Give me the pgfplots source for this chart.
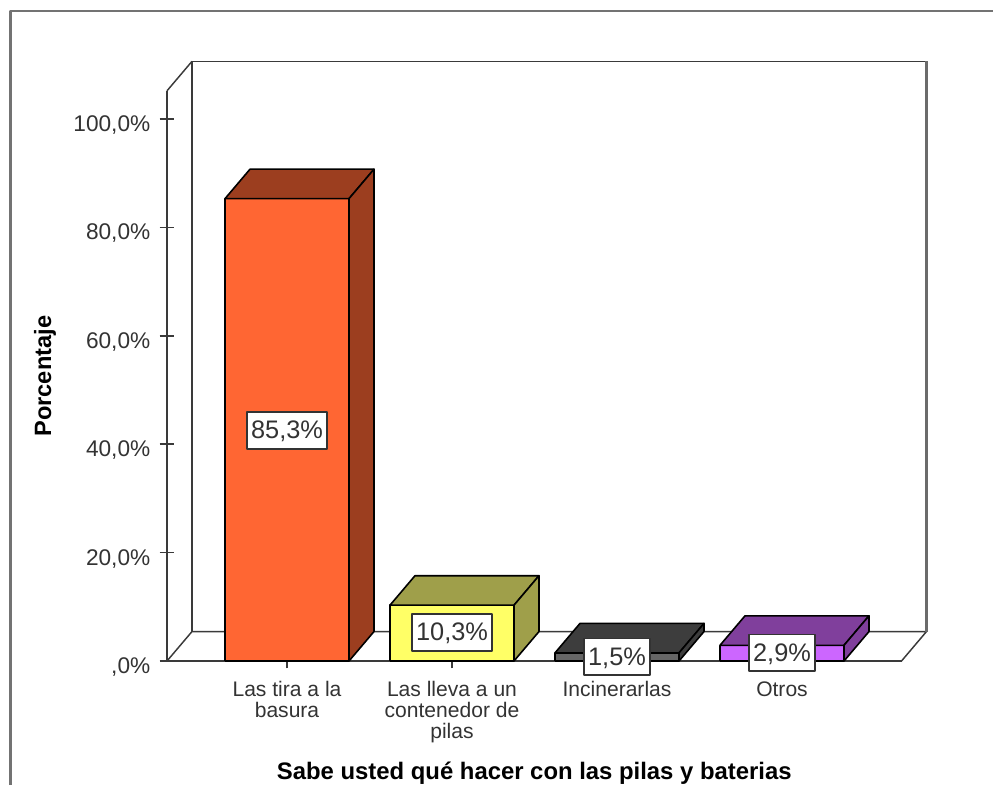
\documentclass[border=0pt]{standalone}
\usepackage{pgfplots}
\pgfplotsset{compat=1.18}
\usepackage{fontspec}
\setmainfont{Liberation Sans}
\definecolor{txt}{HTML}{333333}
\definecolor{orangeF}{HTML}{FF6633}
\definecolor{orangeD}{HTML}{9C3E1F}
\definecolor{yellowF}{HTML}{FFFF66}
\definecolor{yellowD}{HTML}{9F9F4A}
\definecolor{greyF}{HTML}{666666}
\definecolor{greyD}{HTML}{3D3D3D}
\definecolor{purpleF}{HTML}{CC66FF}
\definecolor{purpleD}{HTML}{803F9C}
\definecolor{wall}{HTML}{3A3A3A}
\begin{document}
\begin{tikzpicture}[line join=round]
\begin{axis}[
  scale only axis, width=550.875pt, height=427.65pt,
  xmin=167, xmax=901.5, ymin=0, ymax=105.2,
  clip=false, no markers,
  axis x line=bottom, axis y line=left,
  axis line style={-, draw=wall},
  y axis line style={line width=1.7pt},
  x axis line style={line width=1.2pt},
  tick style={draw=wall, line width=1.2pt},
  major tick length=11pt,
  xtick={287,452,617,782},
  xticklabels={{Las tira a la\\basura},{Las lleva a un\\contenedor de\\pilas},{Incinerarlas},{Otros}},
  xticklabel style={align=center, font=\fontsize{15.8}{15.5}\selectfont, text=txt, yshift=-6.5pt},
  ytick={0,20,40,60,80,100},
  yticklabels={{,0\%},{20,0\%},{40,0\%},{60,0\%},{80,0\%},{100,0\%}},
  yticklabel style={font=\fontsize{17}{20}\selectfont, text=txt, yshift=-4.5pt, xshift=-3.5pt},
  xlabel={Sabe usted qué hacer con las pilas y baterias},
  ylabel={Porcentaje},
  x label style={at={(axis description cs:0.5,-0.197)}, anchor=center, font=\fontsize{17.9}{20}\selectfont\bfseries},
  y label style={at={(axis description cs:-0.166,0.4995)}, anchor=center, rotate=0, font=\fontsize{17.7}{20}\selectfont\bfseries},
]
% outer frame, open on the right and at the bottom
\addplot[draw=gray!90!black, line width=1.6pt] coordinates {(10.5,-22.88) (10.5,119.9) (993,119.9)};

% back walls and floor of the chart box
\addplot[draw=wall, line width=1.1pt] coordinates {(167,0) (192,5.44) (926.5,5.44) (901.5,0)};
\addplot[draw=wall, line width=1.1pt] coordinates {(192,5.44) (192,110.64) (926.5,110.64)};
\addplot[draw=wall!75, line width=1.6pt] coordinates {(926.5,110.64) (926.5,5.44)};
\addplot[draw=wall, line width=1.1pt] coordinates {(167,105.2) (192,110.64)};

% Las tira a la basura: 85,3
\addplot[fill=orangeF, draw=black, line width=1.2pt] coordinates {(225,0) (225,85.3) (349,85.3) (349,0) (225,0)};
\addplot[fill=orangeD, draw=black, line width=1.2pt] coordinates {(225,85.3) (250,90.74) (374,90.74) (349,85.3) (225,85.3)};
\addplot[fill=orangeD, draw=black, line width=1.2pt] coordinates {(349,0) (349,85.3) (374,90.74) (374,5.44) (349,0)};

% Las lleva a un contenedor de pilas: 10,3
\addplot[fill=yellowF, draw=black, line width=1.2pt] coordinates {(390,0) (390,10.3) (514,10.3) (514,0) (390,0)};
\addplot[fill=yellowD, draw=black, line width=1.2pt] coordinates {(390,10.3) (415,15.74) (539,15.74) (514,10.3) (390,10.3)};
\addplot[fill=yellowD, draw=black, line width=1.2pt] coordinates {(514,0) (514,10.3) (539,15.74) (539,5.44) (514,0)};

% Incinerarlas: 1,5
\addplot[fill=greyF, draw=black, line width=1.2pt] coordinates {(555,0) (555,1.5) (679,1.5) (679,0) (555,0)};
\addplot[fill=greyD, draw=black, line width=1.2pt] coordinates {(555,1.5) (580,6.94) (704,6.94) (679,1.5) (555,1.5)};
\addplot[fill=greyD, draw=black, line width=1.2pt] coordinates {(679,0) (679,1.5) (704,6.94) (704,5.44) (679,0)};

% Otros: 2,9
\addplot[fill=purpleF, draw=black, line width=1.2pt] coordinates {(720,0) (720,2.9) (844,2.9) (844,0) (720,0)};
\addplot[fill=purpleD, draw=black, line width=1.2pt] coordinates {(720,2.9) (745,8.34) (869,8.34) (844,2.9) (720,2.9)};
\addplot[fill=purpleD, draw=black, line width=1.2pt] coordinates {(844,0) (844,2.9) (869,8.34) (869,5.44) (844,0)};

% value boxes
\tikzset{vbox/.style={draw=txt, line width=1.3pt, fill=white, text=txt, inner xsep=3pt,
  text height=14.8pt, text depth=2.4pt, inner ysep=5.2pt, font=\fontsize{19}{20}\selectfont}}
\node[vbox] at (axis cs:287,42.5) {85,3\%};
\node[vbox] at (axis cs:452,5.3) {10,3\%};
\node[vbox] at (axis cs:617,0.75) {1,5\%};
\node[vbox] at (axis cs:782,1.5) {2,9\%};

\coordinate (pa) at (axis cs:0,-22.878);
\coordinate (pb) at (axis cs:993,121.956);
\end{axis}
\pgfresetboundingbox
\useasboundingbox (pa) rectangle (pb);
\end{tikzpicture}
\end{document}
